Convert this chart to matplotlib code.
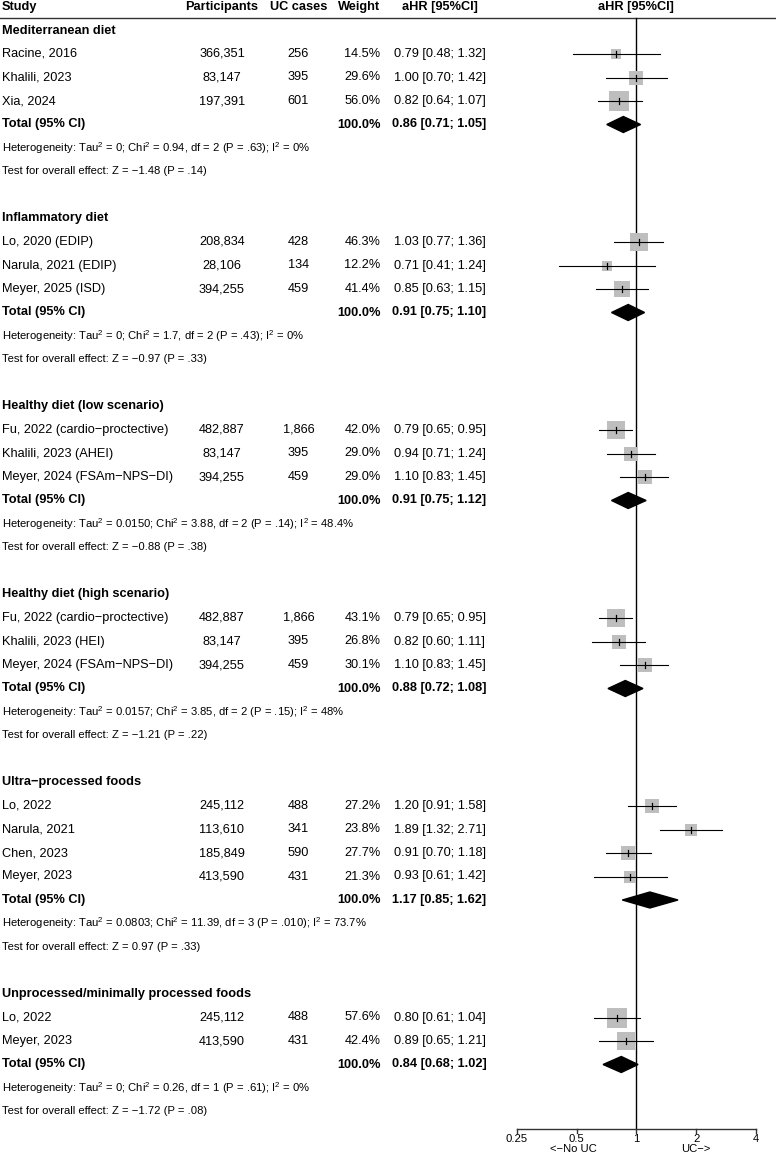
import numpy as np
import matplotlib
matplotlib.use('Agg')
from matplotlib import pyplot as plt
from matplotlib.patches import Polygon

plt.rcParams['font.family'] = ['Liberation Sans', 'DejaVu Sans']
plt.rcParams['mathtext.fontset'] = 'custom'
plt.rcParams['mathtext.rm'] = 'Liberation Sans'
plt.rcParams['mathtext.it'] = 'Liberation Sans'

# groups of the meta-analysis
group_names = ['Mediterranean diet', 'Inflammatory diet', 'Healthy diet (low scenario)',
               'Healthy diet (high scenario)', 'Ultra\u2212processed foods',
               'Unprocessed/minimally processed foods']

study = ['Racine, 2016', 'Khalili, 2023', 'Xia, 2024',
         'Lo, 2020 (EDIP)', 'Narula, 2021 (EDIP)', 'Meyer, 2025 (ISD)',
         'Fu, 2022 (cardio\u2212proctective)', 'Khalili, 2023 (AHEI)', 'Meyer, 2024 (FSAm\u2212NPS\u2212DI)',
         'Fu, 2022 (cardio\u2212proctective)', 'Khalili, 2023 (HEI)', 'Meyer, 2024 (FSAm\u2212NPS\u2212DI)',
         'Lo, 2022', 'Narula, 2021', 'Chen, 2023', 'Meyer, 2023',
         'Lo, 2022', 'Meyer, 2023']
study_group = [0, 0, 0, 1, 1, 1, 2, 2, 2, 3, 3, 3, 4, 4, 4, 4, 5, 5]
participants = [366351, 83147, 197391, 208834, 28106, 394255, 482887, 83147, 394255,
                482887, 83147, 394255, 245112, 113610, 185849, 413590, 245112, 413590]
uc_cases = [256, 395, 601, 428, 134, 459, 1866, 395, 459, 1866, 395, 459,
            488, 341, 590, 431, 488, 431]
weight = [14.5, 29.6, 56.0, 46.3, 12.2, 41.4, 42.0, 29.0, 29.0, 43.1, 26.8, 30.1,
          27.2, 23.8, 27.7, 21.3, 57.6, 42.4]
ahr = [0.79, 1.00, 0.82, 1.03, 0.71, 0.85, 0.79, 0.94, 1.10, 0.79, 0.82, 1.10,
       1.20, 1.89, 0.91, 0.93, 0.80, 0.89]
ci_low = [0.48, 0.70, 0.64, 0.77, 0.41, 0.63, 0.65, 0.71, 0.83, 0.65, 0.60, 0.83,
          0.91, 1.32, 0.70, 0.61, 0.61, 0.65]
ci_high = [1.32, 1.42, 1.07, 1.36, 1.24, 1.15, 0.95, 1.24, 1.45, 0.95, 1.11, 1.45,
           1.58, 2.71, 1.18, 1.42, 1.04, 1.21]

pooled_ahr = [0.86, 0.91, 0.91, 0.88, 1.17, 0.84]
pooled_low = [0.71, 0.75, 0.75, 0.72, 0.85, 0.68]
pooled_high = [1.05, 1.10, 1.12, 1.08, 1.62, 1.02]

het_tau2 = ['0', '0', '0.0150', '0.0157', '0.0803', '0']
het_chi2 = ['0.94', '1.7', '3.88', '3.85', '11.39', '0.26']
het_df = [2, 2, 2, 2, 3, 1]
het_p = ['.63', '.43', '.14', '.15', '.010', '.61']
het_i2 = ['0%', '0%', '48.4%', '48%', '73.7%', '0%']
z_value = ['\u22121.48', '\u22120.97', '\u22120.88', '\u22121.21', '0.97', '\u22121.72']
z_p = ['.14', '.33', '.38', '.22', '.33', '.08']

W, H = 776, 1166
fig = plt.figure(figsize=(W / 100, H / 100), dpi=100)
ax = fig.add_axes([0, 0, 1, 1])
ax.set_xlim(0, W)
ax.set_ylim(H, 0)
ax.axis('off')

x_left, x_right = 516.7, 756.0
fax = fig.add_axes([x_left / W, 0, (x_right - x_left) / W, 1])
fax.set_xscale('log', base=2)
fax.set_xlim(0.25, 4)
fax.set_ylim(H, 0)
fax.axis('off')

fs = 9.2
fs_small = 8.1
row_h = 23.5
def row_y(i):
    return 7 + row_h * i

col_part, col_cases, col_weight, col_hr = 222, 298.5, 380.5, 439.5

# header
y = row_y(0)
ax.text(2, y, 'Study', fontsize=fs, fontweight='bold', va='center')
ax.text(col_part, y, 'Participants', fontsize=fs, fontweight='bold', va='center', ha='center')
ax.text(col_cases, y, 'UC cases', fontsize=fs, fontweight='bold', va='center', ha='center')
ax.text(col_weight, y, 'Weight', fontsize=fs, fontweight='bold', va='center', ha='right')
ax.text(col_hr, y, 'aHR [95%CI]', fontsize=fs, fontweight='bold', va='center', ha='center')
fax.text(1, y, 'aHR [95%CI]', fontsize=fs, fontweight='bold', va='center', ha='center')
ax.plot([0, W], [18, 18], color='#333333', lw=1.0)

axis_y = 1128.5
fax.plot([1, 1], [18, axis_y], color='black', lw=1.0, zorder=1)

i = 1
for g, gname in enumerate(group_names):
    ax.text(2, row_y(i), gname, fontsize=fs, fontweight='bold', va='center')
    i += 1
    for k in [k for k in range(len(study)) if study_group[k] == g]:
        y = row_y(i)
        ax.text(2, y, study[k], fontsize=fs, va='center')
        ax.text(col_part, y, f'{participants[k]:,}', fontsize=fs, va='center', ha='center')
        ax.text(col_cases, y, f'{uc_cases[k]:,}', fontsize=fs, va='center', ha='center')
        ax.text(col_weight, y, f'{weight[k]:.1f}%', fontsize=fs, va='center', ha='right')
        ax.text(col_hr, y, f'{ahr[k]:.2f} [{ci_low[k]:.2f}; {ci_high[k]:.2f}]',
                fontsize=fs, va='center', ha='center')
        side_pt = 2.63 * np.sqrt(weight[k]) * 72 / 100
        fax.scatter([ahr[k]], [y], s=side_pt ** 2, marker='s', color='#BEBEBE',
                    linewidths=0, zorder=2)
        fax.plot([ci_low[k], ci_high[k]], [y, y], color='black', lw=0.8, zorder=3)
        fax.plot([ahr[k], ahr[k]], [y - 3, y + 3], color='black', lw=0.9, zorder=3)
        i += 1
    y = row_y(i)
    ax.text(2, y, 'Total (95% CI)', fontsize=fs, fontweight='bold', va='center')
    ax.text(col_weight, y, '100.0%', fontsize=fs, fontweight='bold', va='center', ha='right')
    ax.text(col_hr, y, f'{pooled_ahr[g]:.2f} [{pooled_low[g]:.2f}; {pooled_high[g]:.2f}]',
            fontsize=fs, fontweight='bold', va='center', ha='center')
    fax.add_patch(Polygon([[pooled_low[g], y], [pooled_ahr[g], y - 8],
                           [pooled_high[g], y], [pooled_ahr[g], y + 8]],
                          closed=True, color='black', zorder=4))
    i += 1
    ax.text(2, row_y(i),
            f'Heterogeneity: Tau$^2$ = {het_tau2[g]}; Chi$^2$ = {het_chi2[g]}, '
            f'df = {het_df[g]} (P = {het_p[g]}); I$^2$ = {het_i2[g]}',
            fontsize=fs_small, va='center')
    i += 1
    ax.text(2, row_y(i), f'Test for overall effect: Z = {z_value[g]} (P = {z_p[g]})',
            fontsize=fs_small, va='center')
    i += 2

# x axis of the forest
ticks = [0.25, 0.5, 1, 2, 4]
fax.plot([0.25, 4], [axis_y, axis_y], color='#333333', lw=1.0, clip_on=False)
for t in ticks:
    fax.plot([t, t], [axis_y, axis_y + 4.5], color='#333333', lw=1.0, clip_on=False)
    fax.text(t, 1138.5, f'{t:g}', fontsize=fs_small, ha='center', va='center')
fax.text(0.48, 1148.5, '<\u2212No UC', fontsize=fs_small, ha='center', va='center')
fax.text(2, 1148.5, 'UC\u2212>', fontsize=fs_small, ha='center', va='center')

fig.savefig('out.png', dpi=100)
